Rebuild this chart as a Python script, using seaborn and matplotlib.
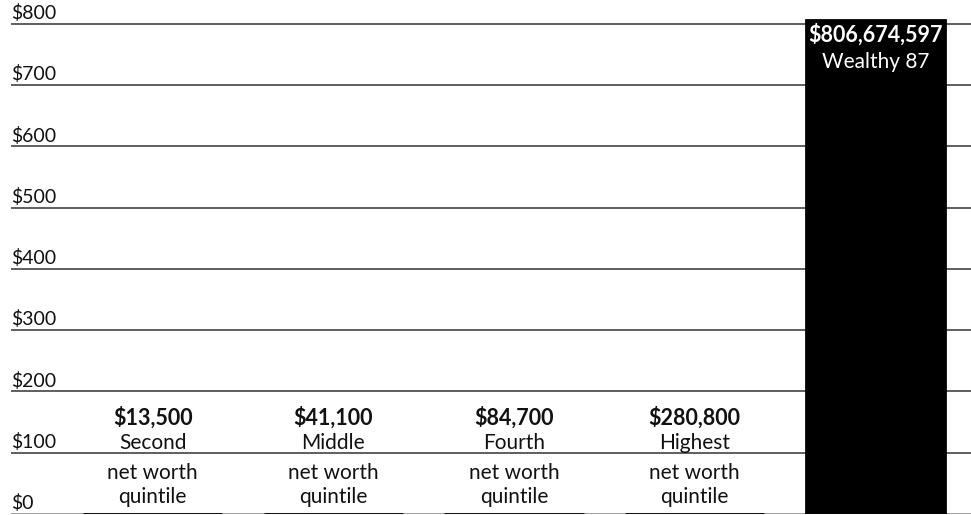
import matplotlib
matplotlib.use("Agg")
import matplotlib.pyplot as plt
import matplotlib.transforms as mtransforms
import seaborn as sns
import pandas as pd

# data (values in millions of dollars)
groups = ["Second", "Middle", "Fourth", "Highest", "Wealthy 87"]
net_worth = [0.0135, 0.0411, 0.0847, 0.2808, 806.674597]
value_labels = ["$13,500", "$41,100", "$84,700", "$280,800", "$806,674,597"]
yticks = [0, 100, 200, 300, 400, 500, 600, 700, 800]

df = pd.DataFrame({"group": groups, "worth": net_worth})

sns.set_style("white")
plt.rcParams["font.family"] = ["Lato", "DejaVu Sans"]

fig = plt.figure(figsize=(9.71, 5.15), dpi=100)
ax = fig.add_axes([11 / 971, 1 / 515, 960 / 971, 514 / 515])

# gridlines first so bars sit on top
for v in yticks:
    ax.axhline(v, color="#888888" if v == 0 else "#333333", lw=1.1, zorder=0)

sns.barplot(data=df, x="group", y="worth", color="black", width=0.77,
            edgecolor="black", linewidth=2, saturation=1, ax=ax, zorder=2)

ax.set_xlim(-0.785, 4.53)
ax.set_ylim(0, 839)
ax.set_xticks([])
ax.set_yticks([])
ax.set_xlabel("")
ax.set_ylabel("")
for s in ax.spines.values():
    s.set_visible(False)

# y labels sitting on the gridlines
trans = mtransforms.blended_transform_factory(ax.transAxes, ax.transData)
for v in yticks:
    ax.text(0, v + 3, f"${v}", transform=trans, ha="left", va="bottom",
            fontsize=14, color="#111111")

# labels for the quintile bars
for i in range(4):
    ax.text(i, 157, value_labels[i], ha="center", va="center",
            fontsize=15.5, fontweight="bold", color="#111111", zorder=3)
    ax.text(i, 116, groups[i], ha="center", va="center", fontsize=15,
            color="#111111", zorder=3)
    ax.text(i, 67, "net worth", ha="center", va="center", fontsize=15,
            color="#111111", zorder=3)
    ax.text(i, 28, "quintile", ha="center", va="center", fontsize=15,
            color="#111111", zorder=3)

# label inside the tall bar
ax.text(4, 782, value_labels[4], ha="center", va="center", fontsize=15.5,
        fontweight="bold", color="white", zorder=3)
ax.text(4, 738, groups[4], ha="center", va="center", fontsize=15,
        color="white", zorder=3)

fig.savefig("out.png", dpi=100)
